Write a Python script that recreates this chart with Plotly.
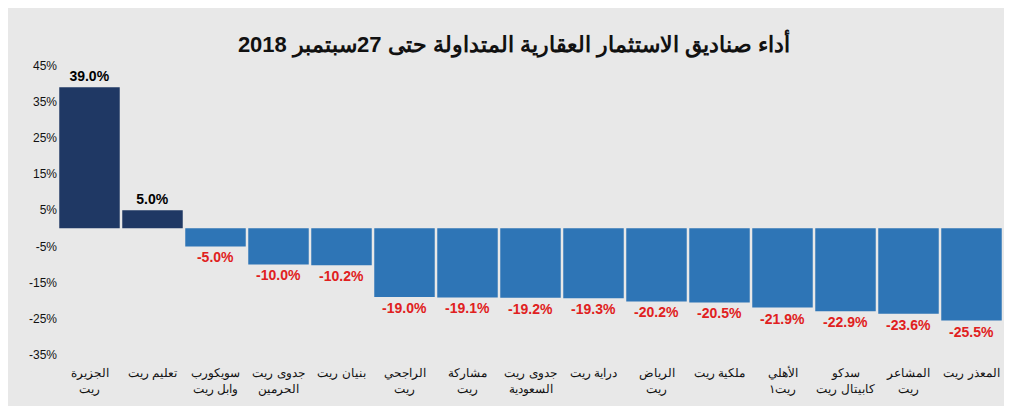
import plotly.graph_objects as go

categories = ["الجزيرة<br>ريت", "تعليم ريت", "سويكورب<br>وابل ريت", "جدوى ريت<br>الحرمين", "بنيان ريت",
              "الراجحي<br>ريت", "مشاركة<br>ريت", "جدوى ريت<br>السعودية", "دراية ريت", "الرياض<br>ريت",
              "ملكية ريت", "الأهلي<br>ريت١", "سدكو<br>كابيتال ريت", "المشاعر<br>ريت", "المعذر ريت"]
values = [39.0, 5.0, -5.0, -10.0, -10.2, -19.0, -19.1, -19.2, -19.3, -20.2, -20.5, -21.9, -22.9, -23.6, -25.5]
tick_vals = [45, 35, 25, 15, 5, -5, -15, -25, -35]
tick_text = [f"{v}%" for v in tick_vals]

colors = ["#1f3864" if v > 0 else "#2e75b6" for v in values]
fig = go.Figure(go.Bar(
    x=categories, y=values, marker_color=colors, marker_line_width=0,
    text=[f"{v:.1f}%" for v in values], textposition="outside", cliponaxis=False,
    textfont=dict(family="Liberation Sans", size=14,
                  color=["#000000" if v > 0 else "#e02020" for v in values]),
))
fig.update_traces(texttemplate="<b>%{text}</b>")
fig.update_layout(
    width=1012, height=406, margin=dict(l=50, r=17, t=52, b=50),
    paper_bgcolor="#e8e8e8", plot_bgcolor="#e8e8e8", bargap=0.04,
    title=dict(text="<b>أداء صناديق الاستثمار العقارية المتداولة حتى 27سبتمبر 2018</b>",
               x=0.5, y=0.93, xanchor="center", font=dict(family="Liberation Sans", size=22, color="#111")),
    yaxis=dict(range=[-37.5, 46.5], tickvals=tick_vals, ticktext=tick_text, showgrid=False,
               zeroline=False, tickfont=dict(family="Liberation Sans", size=12, color="#111")),
    xaxis=dict(tickfont=dict(family="Liberation Sans", size=12, color="#111"), showline=False),
    showlegend=False,
)
fig.write_html("out.html")
